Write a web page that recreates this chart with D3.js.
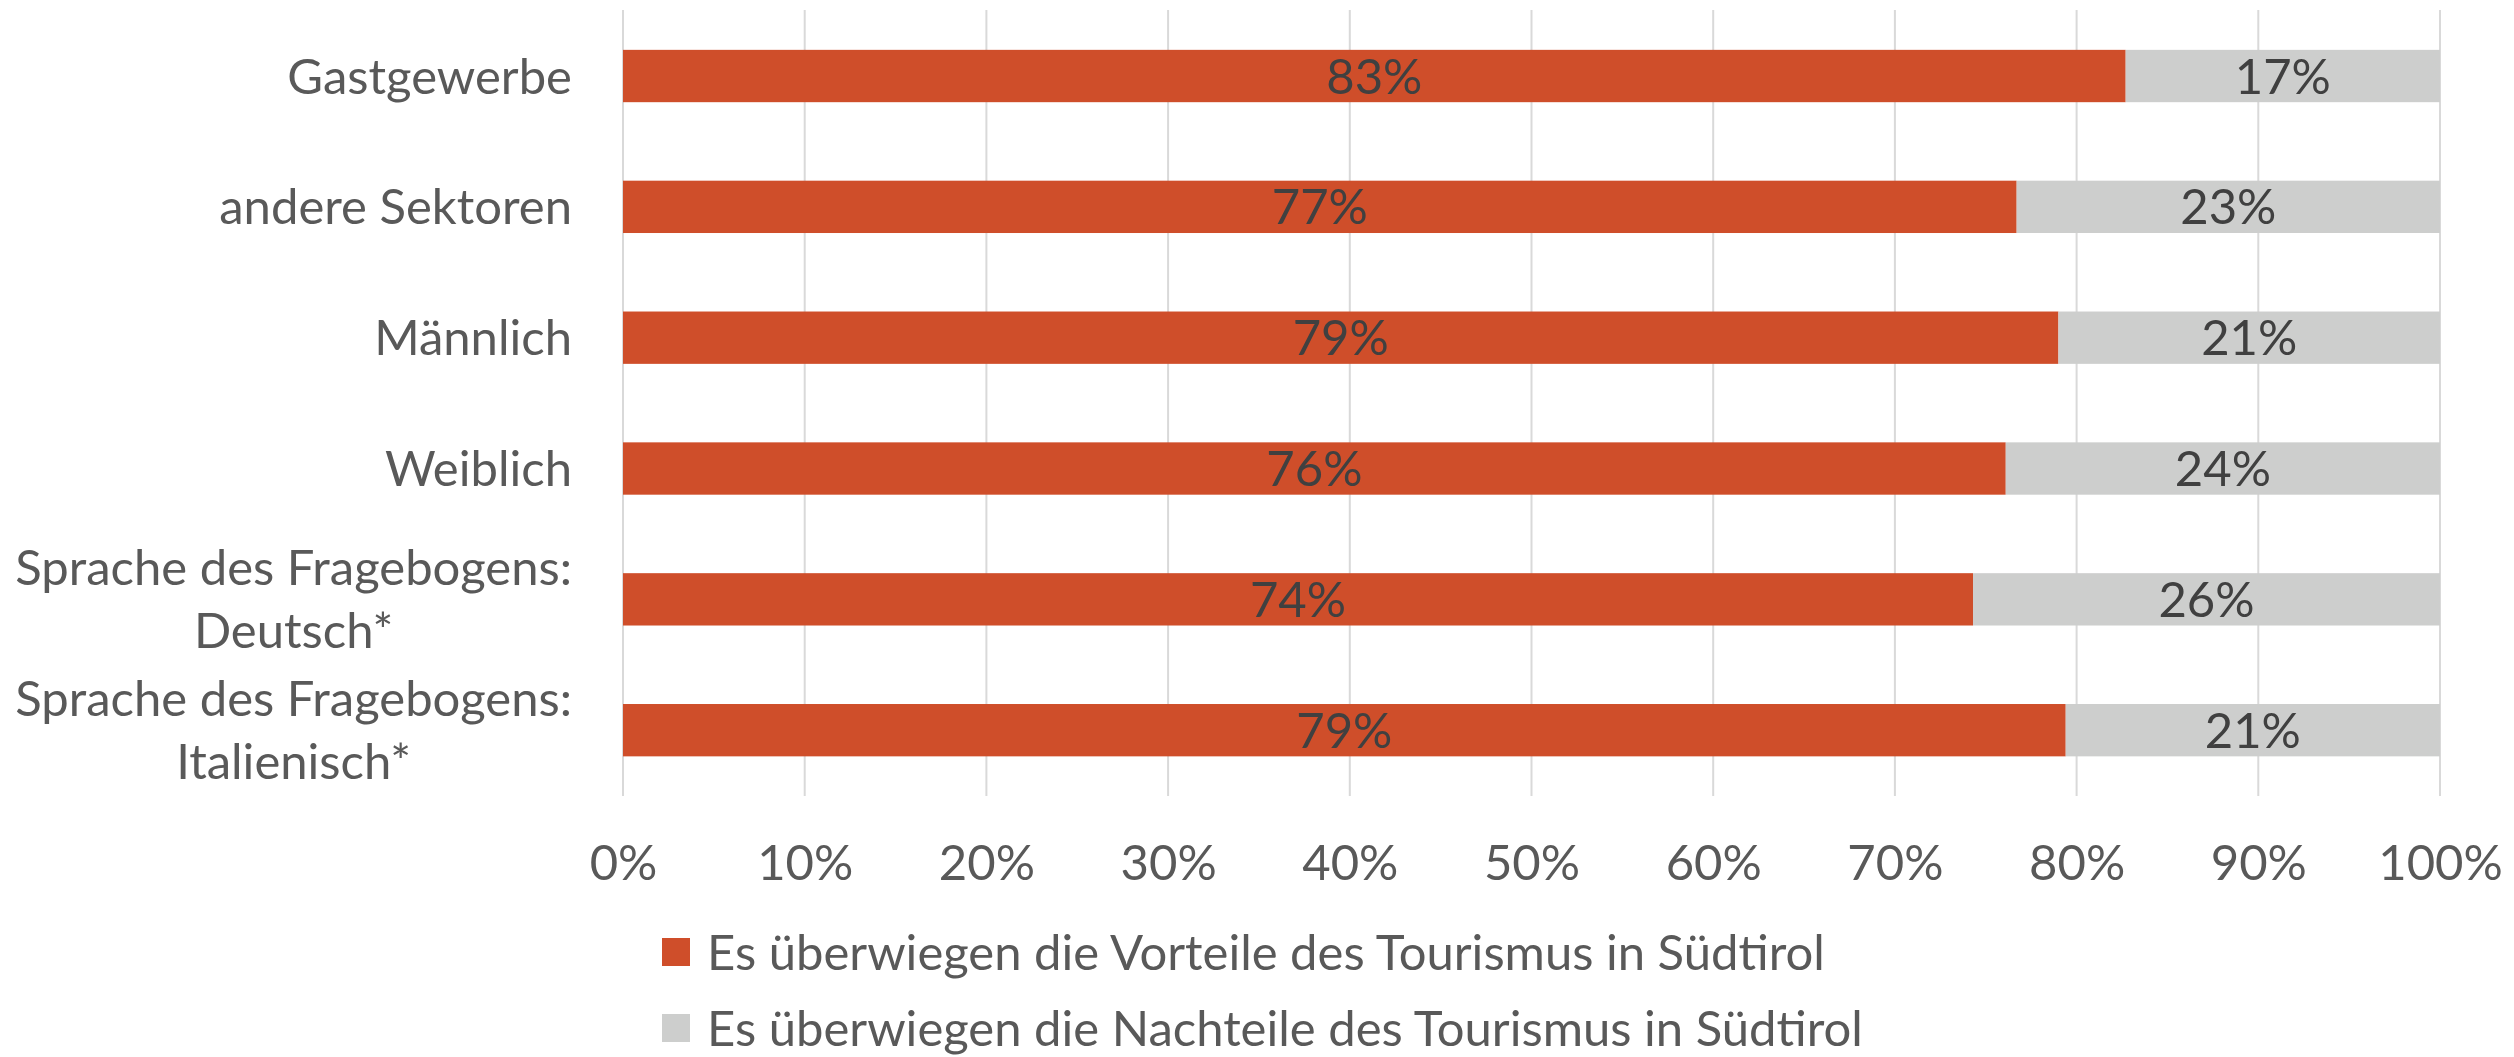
<!DOCTYPE html>
<html>
<head>
<meta charset="utf-8">
<script src="https://cdn.jsdelivr.net/npm/d3@7"></script>
<style>
  html, body { margin: 0; padding: 0; background: #fff; }
  svg { display: block; font-family: Lato, "Open Sans", sans-serif; }
</style>
</head>
<body>
<svg id="chart" width="2514" height="1057"></svg>
<script>
// ---- data ----
const categories = [
  ["Gastgewerbe"],
  ["andere Sektoren"],
  ["Männlich"],
  ["Weiblich"],
  ["Sprache des Fragebogens:", "Deutsch*"],
  ["Sprache des Fragebogens:", "Italienisch*"]
];
const vorteile  = [0.827, 0.767, 0.790, 0.761, 0.743, 0.794];
const nachteile = [0.173, 0.233, 0.210, 0.239, 0.257, 0.206];
const vorteileLabels  = ["83%", "77%", "79%", "76%", "74%", "79%"];
const nachteileLabels = ["17%", "23%", "21%", "24%", "26%", "21%"];
const tickValues = [0, 0.1, 0.2, 0.3, 0.4, 0.5, 0.6, 0.7, 0.8, 0.9, 1.0];
const tickLabels = ["0%", "10%", "20%", "30%", "40%", "50%", "60%", "70%", "80%", "90%", "100%"];
const seriesNames = [
  "Es überwiegen die Vorteile des Tourismus in Südtirol",
  "Es überwiegen die Nachteile des Tourismus in Südtirol"
];
const colors = ["#CF4E2A", "#CDCECD"];

// ---- layout ----
const svg = d3.select("#chart");
const keys = categories.map((c, i) => "c" + i);
const x = d3.scaleLinear().domain([0, 1]).range([623, 2440]);
const y = d3.scaleBand().domain(keys).range([10.6, 795.6]).paddingInner(0.6).paddingOuter(0.3);

const textGrey = "#595959";
const labelDark = "#404040";
const fs = 49;

// gridlines
const grid = svg.append("g");
grid.selectAll("line").data(tickValues).join("line")
  .attr("x1", d => x(d)).attr("x2", d => x(d))
  .attr("y1", 10).attr("y2", 796)
  .attr("stroke", "#D9D9D9").attr("stroke-width", 2);

// axis tick labels via d3 axis
const axisG = svg.append("g").attr("transform", "translate(0,796)")
  .call(d3.axisBottom(x).tickValues(tickValues).tickFormat((d, i) => tickLabels[i]).tickSize(0).tickPadding(0));
axisG.select(".domain").remove();
axisG.selectAll("text")
  .attr("font-family", "Lato, 'Open Sans', sans-serif")
  .attr("font-size", fs).attr("fill", textGrey)
  .attr("dy", null).attr("y", 84);

// stacked bars
const rows = keys.map((k, i) => ({k, v: vorteile[i], n: nachteile[i], lv: vorteileLabels[i], ln: nachteileLabels[i]}));
const barG = svg.append("g");
barG.selectAll("rect.v").data(rows).join("rect").attr("class", "v")
  .attr("x", x(0)).attr("y", d => y(d.k))
  .attr("width", d => x(d.v) - x(0)).attr("height", y.bandwidth())
  .attr("fill", colors[0]);
barG.selectAll("rect.n").data(rows).join("rect").attr("class", "n")
  .attr("x", d => x(d.v)).attr("y", d => y(d.k))
  .attr("width", d => x(d.v + d.n) - x(d.v)).attr("height", y.bandwidth())
  .attr("fill", colors[1]);

// data labels
barG.selectAll("text.lv").data(rows).join("text").attr("class", "lv")
  .attr("x", d => (x(0) + x(d.v)) / 2).attr("y", d => y(d.k) + y.bandwidth() / 2)
  .attr("dy", "0.36em").attr("text-anchor", "middle")
  .attr("font-size", fs).attr("fill", labelDark).text(d => d.lv);
barG.selectAll("text.ln").data(rows).join("text").attr("class", "ln")
  .attr("x", d => (x(d.v) + x(d.v + d.n)) / 2).attr("y", d => y(d.k) + y.bandwidth() / 2)
  .attr("dy", "0.36em").attr("text-anchor", "middle")
  .attr("font-size", fs).attr("fill", labelDark).text(d => d.ln);

// category labels (right-aligned block, lines centered within block)
const catRight = 572;
const lineH = 63;
const catG = svg.append("g");
categories.forEach((lines, i) => {
  const cy = y(keys[i]) + y.bandwidth() / 2;
  const g = catG.append("g");
  const texts = lines.map((t, j) => g.append("text")
    .attr("font-size", fs).attr("fill", textGrey)
    .attr("y", cy + (j - (lines.length - 1) / 2) * lineH)
    .attr("dy", "0.36em").text(t));
  const w = d3.max(texts, t => t.node().getComputedTextLength());
  texts.forEach(t => t.attr("x", catRight - w / 2).attr("text-anchor", "middle"));
});

// legend
const legend = svg.append("g");
const legendRows = [{y: 938}, {y: 1014}];
seriesNames.forEach((name, i) => {
  legend.append("rect").attr("x", 662).attr("y", legendRows[i].y)
    .attr("width", 28).attr("height", 28).attr("fill", colors[i]);
  legend.append("text").attr("x", 707).attr("y", legendRows[i].y + 14)
    .attr("dy", "0.36em").attr("font-size", fs).attr("fill", textGrey).text(name);
});
</script>
</body>
</html>
